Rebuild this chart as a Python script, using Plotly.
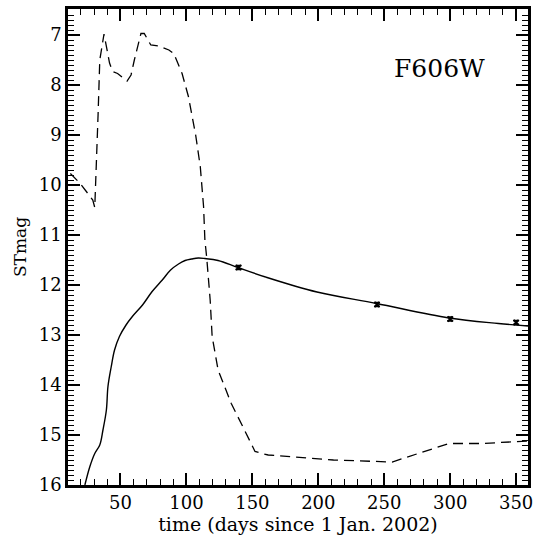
import plotly.graph_objects as go

# Model (solid) light curve
model_day = [23, 26.8, 30.5, 34.3, 36.7, 39.3, 40.5, 43, 45.5, 49.2, 54.2, 59, 66.7, 74, 81.7, 88,
             94, 99, 104, 109, 114, 124, 139, 160, 199, 244, 299, 336.6, 359]
model_mag = [16.0, 15.63, 15.37, 15.2, 14.9, 14.5, 14.03, 13.63, 13.3, 13.03, 12.8, 12.63, 12.4, 12.13, 11.9, 11.7,
             11.58, 11.51, 11.48, 11.46, 11.47, 11.51, 11.65, 11.84, 12.14, 12.37, 12.66, 12.77, 12.82]

# Comparison (dashed) light curve
comp_day = [12, 19.5, 29, 30.5, 33, 34.3, 37.5, 41.7, 44, 47.8, 55, 58, 60.5, 65.5, 68, 73, 79, 86.7, 90.4,
            96.7, 101.5, 104, 107, 110.5, 113, 114, 115.4, 118, 119.5, 124, 134, 144, 152, 159, 162, 211.5,
            244, 256, 299, 324, 359]
comp_mag = [9.77, 9.97, 10.3, 10.45, 8.6, 7.5, 6.98, 7.56, 7.73, 7.77, 7.92, 7.8, 7.5, 6.97, 6.97, 7.2, 7.22,
            7.3, 7.37, 7.77, 8.23, 8.57, 9.0, 9.63, 10.43, 11.1, 11.46, 12.3, 13.03, 13.7, 14.37, 14.9, 15.33,
            15.38, 15.4, 15.5, 15.54, 15.54, 15.17, 15.17, 15.12]

# Observations
obs_day = [139.5, 244.5, 300, 350]
obs_mag = [11.65, 12.39, 12.68, 12.75]
obs_err = [0.04, 0.04, 0.04, 0.04]

x_tick_step = 50
x_minor_step = 10
y_tick_step = 1
y_minor_step = 0.1

FONT = "DejaVu Serif"

fig = go.Figure()
fig.add_trace(go.Scatter(x=comp_day, y=comp_mag, mode="lines",
                         line=dict(color="black", width=1.3, dash="10px,6px"), showlegend=False))
fig.add_trace(go.Scatter(x=model_day, y=model_mag, mode="lines", line_shape="spline",
                         line=dict(color="black", width=1.4), showlegend=False))
fig.add_trace(go.Scatter(x=obs_day, y=obs_mag, mode="markers",
                         marker=dict(color="black", size=5, symbol="x-thin", line=dict(width=2, color="black")),
                         error_y=dict(type="data", array=obs_err, color="black", thickness=1.5, width=3),
                         showlegend=False))

fig.add_annotation(x=292, y=7.66, text="F606W", showarrow=False,
                   font=dict(family=FONT, size=25, color="black"))

axis_common = dict(showgrid=False, zeroline=False, showline=True, linecolor="black", linewidth=2.5,
                   mirror="allticks", ticks="inside", tickcolor="black", tickwidth=1.5, ticklen=12,
                   tickfont=dict(family=FONT, size=18, color="black"))

fig.update_xaxes(range=[10.2, 359], dtick=x_tick_step,
                 minor=dict(dtick=x_minor_step, ticks="inside", ticklen=6, tickcolor="black", tickwidth=1.2),
                 title=dict(text="time (days since 1 Jan. 2002)", font=dict(family=FONT, size=19, color="black"),
                            standoff=4),
                 **axis_common)
fig.update_yaxes(range=[16, 6.48], dtick=y_tick_step,
                 minor=dict(dtick=y_minor_step, ticks="inside", ticklen=6, tickcolor="black", tickwidth=1.2),
                 title=dict(text="STmag", font=dict(family=FONT, size=17, color="black"), standoff=8),
                 **axis_common)

fig.update_layout(width=539, height=540, margin=dict(l=68, r=6, t=9, b=55),
                  plot_bgcolor="white", paper_bgcolor="white")

fig.write_html("out.html", config={"displayModeBar": False},
               post_script="document.body.style.margin='0';")
